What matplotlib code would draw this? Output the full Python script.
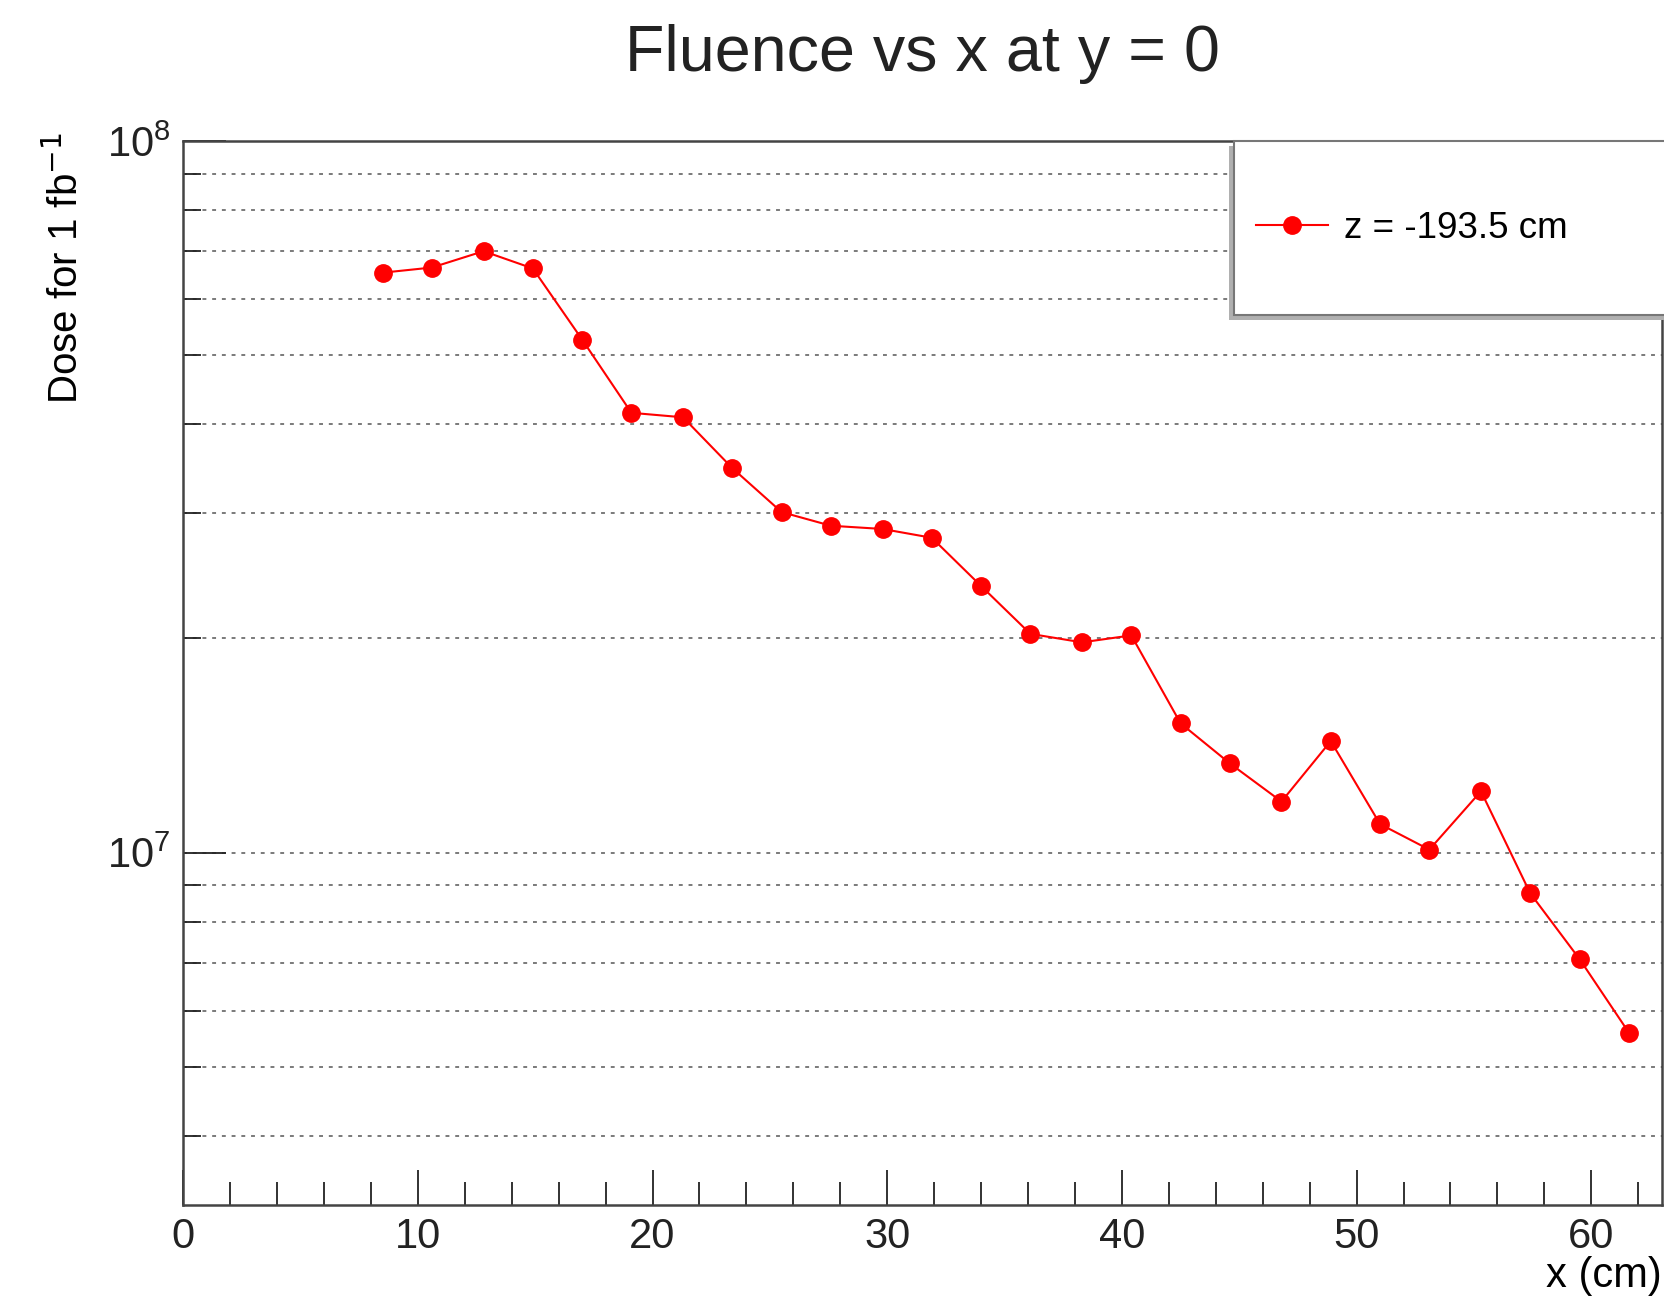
import matplotlib.pyplot as plt
from matplotlib.patches import Rectangle
from matplotlib.ticker import LogLocator, MultipleLocator, NullFormatter

plt.rcParams['font.family'] = ['Liberation Sans', 'DejaVu Sans']

# Dose profile along x at y = 0
x_cm = [8.5, 10.6, 12.8, 14.9, 17.0, 19.1, 21.3, 23.4, 25.5, 27.6, 29.8, 31.9, 34.0,
        36.1, 38.3, 40.4, 42.5, 44.6, 46.8, 48.9, 51.0, 53.1, 55.3, 57.4, 59.5, 61.6]
dose = [6.53e7, 6.64e7, 7.0e7, 6.62e7, 5.26e7, 4.15e7, 4.09e7, 3.47e7, 3.01e7,
        2.88e7, 2.85e7, 2.77e7, 2.37e7, 2.03e7, 1.975e7, 2.02e7, 1.52e7, 1.335e7,
        1.18e7, 1.435e7, 1.097e7, 1.01e7, 1.22e7, 8.77e6, 7.09e6, 5.59e6]
series_label = "z = -193.5 cm"

fig = plt.figure(figsize=(16.65, 12.99), dpi=100)
ax = fig.add_axes([0.110, 0.0724, 0.888, 0.8191])

ax.plot(x_cm, dose, color='red', linewidth=1.5, marker='o', markersize=12.5,
        markeredgecolor='red', label=series_label)

ax.set_yscale('log')
ax.set_xlim(0, 63)
ax.set_ylim(3.2e6, 1e8)

ax.xaxis.set_major_locator(MultipleLocator(10))
ax.xaxis.set_minor_locator(MultipleLocator(2))
ax.yaxis.set_major_locator(LogLocator(base=10))
ax.yaxis.set_minor_locator(LogLocator(base=10, subs=range(2, 10)))
ax.yaxis.set_minor_formatter(NullFormatter())

ax.tick_params(axis='both', which='both', direction='in', top=False, right=False,
               colors='#222222', labelsize=30)
ax.tick_params(axis='x', which='major', length=25, width=1.3, pad=9)
ax.tick_params(axis='x', which='minor', length=16.5, width=1.3)
ax.tick_params(axis='y', which='major', length=31, width=1.3, pad=9)
ax.tick_params(axis='y', which='minor', length=13, width=1.3)

ax.grid(True, axis='y', which='both', color='#7a7a7a', linestyle=(0, (2, 3)),
        linewidth=1.4)

for sp in ax.spines.values():
    sp.set_color('#444444')
    sp.set_linewidth(1.8)

ax.set_xlabel("x (cm)", fontsize=30, loc='right')
ax.xaxis.set_label_coords(1.0, -0.048)
ax.set_ylabel("Dose for 1 fb$^{-1}$", fontsize=29, loc='top')
ax.yaxis.set_label_coords(-0.066, 1.008)

fig.text(0.554, 0.945, "Fluence vs x at y = 0", fontsize=46.5, ha='center',
         va='baseline', color='#222222')

# legend box with a drop shadow on the left and bottom
ax.add_patch(Rectangle((0.7075, 0.8315), 0.3, 0.164, transform=ax.transAxes,
                       facecolor='#b0b0b0', edgecolor='none', clip_on=False, zorder=4))
ax.add_patch(Rectangle((0.711, 0.836), 0.3, 0.164, transform=ax.transAxes,
                       facecolor='white', edgecolor='#777777', linewidth=1.5,
                       clip_on=False, zorder=5))
leg = ax.legend(loc='center left', bbox_to_anchor=(0.7255, 0.918), frameon=False,
                fontsize=26.5, handlelength=1.95, handletextpad=0.45, borderpad=0,
                borderaxespad=0)
leg.set_zorder(6)

fig.savefig("out.png", dpi=100)
